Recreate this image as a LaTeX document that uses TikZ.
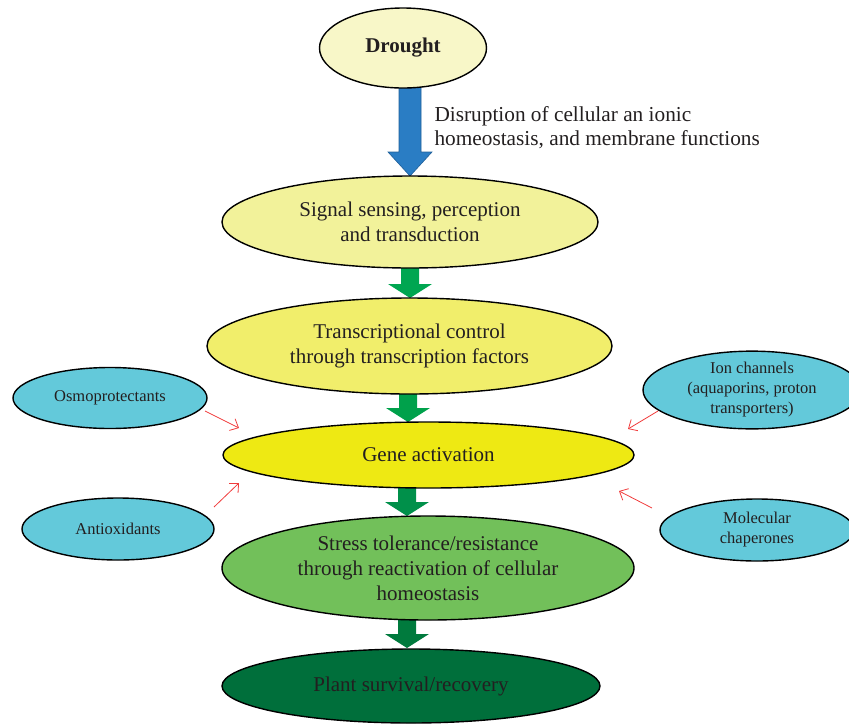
\documentclass[tikz,border=0pt]{standalone}
\usepackage{fontspec}
\setmainfont{Liberation Serif}
\usetikzlibrary{shapes.geometric,arrows.meta}
\definecolor{txt}{HTML}{231F20}
\definecolor{droughtc}{HTML}{F8F7C8}
\definecolor{signalc}{HTML}{F2F29A}
\definecolor{transc}{HTML}{F1EE6B}
\definecolor{genec}{HTML}{EEE913}
\definecolor{stressc}{HTML}{72C05A}
\definecolor{plantc}{HTML}{006F3B}
\definecolor{sidec}{HTML}{63C9DA}
\definecolor{bluec}{HTML}{2A7DC4}
\definecolor{blueedge}{HTML}{1F5F99}
\definecolor{gA}{HTML}{00A651}
\definecolor{gB}{HTML}{00A14B}
\definecolor{gC}{HTML}{00904A}
\definecolor{gD}{HTML}{007A3D}
\definecolor{redc}{HTML}{F03C3C}
\newcommand{\garrow}[5]{%
  \fill[#5] (#1-9,#2) -- (#1+9,#2) -- (#1+9,#3-14) -- (#1+22,#3-14) -- (#1,#3) -- (#1-22,#3-14) -- (#1-9,#3-14) -- cycle;
  \coordinate (#4) at (#1,#3);}
\begin{document}
\begin{tikzpicture}[x=1pt,y=-1pt,
  ell/.style={ellipse, draw=black, line width=1.4pt, inner sep=0pt, align=center, text=txt,
    font=\fontsize{21}{25}\selectfont},
  side/.style={ell, fill=sidec, font=\fontsize{16.5}{20}\selectfont},
  redarr/.style={draw=redc, line width=0.8pt, -{Straight Barb[length=7pt,width=13pt]}}]
\useasboundingbox (0,0) rectangle (849,724);
\clip (0,0) rectangle (849,724);
% block arrows (drawn first, ellipses cover their ends)
\filldraw[fill=bluec, draw=blueedge, line width=0.6pt]
  (399,80) -- (421,80) -- (421,152) -- (432,152) -- (410,176) -- (388,152) -- (399,152) -- cycle;
\coordinate (btip) at (410,176);
\garrow{410}{262}{298}{gtip1}{gA}
\garrow{408}{388}{422}{gtip2}{gB}
\garrow{407}{482}{516}{gtip3}{gC}
\garrow{407}{614}{648}{gtip4}{gD}
% main ellipses
\node[ell, fill=droughtc, minimum width=167pt, minimum height=80pt,
  font=\bfseries\fontsize{21}{25}\selectfont] (drought) at (403,48) {Drought};
\node[anchor=west, align=left, text=txt, font=\fontsize{21.3}{24}\selectfont] (dis) at (431,128)
  {Disruption of cellular an ionic\\homeostasis, and membrane functions};
\node[ell, fill=signalc, minimum width=376pt, minimum height=92pt] (signal) at (410,222)
  {Signal sensing, perception\\and transduction};
\node[ell, fill=transc, minimum width=405pt, minimum height=96pt] (trans) at (409.5,346)
  {Transcriptional control\\through transcription factors};
\node[ell, fill=genec, minimum width=411pt, minimum height=66pt] (gene) at (428.5,455)
  {Gene activation};
\node[ell, fill=stressc, minimum width=412pt, minimum height=104pt] (stress) at (428,568)
  {Stress tolerance/resistance\\through reactivation of cellular\\homeostasis};
\node[ell, fill=plantc, minimum width=378pt, minimum height=74pt] (plant) at (411,686)
  {Plant survival/recovery};
% side ellipses
\node[side, minimum width=194pt, minimum height=61pt] (osmo) at (110,398) {Osmoprotectants};
\node[side, minimum width=192pt, minimum height=62pt] (antiox) at (118,529) {Antioxidants};
\node[side, minimum width=218pt, minimum height=62pt] (ion) at (752,390)
  {Ion channels\\(aquaporins, proton\\transporters)};
\node[side, minimum width=194pt, minimum height=62pt] (mol) at (757,530) {Molecular\\chaperones};
% red arrows
\coordinate (o1) at (205,411); \coordinate (o2) at (239,428);
\coordinate (a1) at (214,507); \coordinate (a2) at (239,483);
\coordinate (i1) at (658,411); \coordinate (i2) at (628,429);
\coordinate (m1) at (652,508); \coordinate (m2) at (619,491);
\draw[redarr] (o1) -- (o2);
\draw[redarr] (a1) -- (a2);
\draw[redarr] (i1) -- (i2);
\draw[redarr] (m1) -- (m2);
\end{tikzpicture}
\end{document}
